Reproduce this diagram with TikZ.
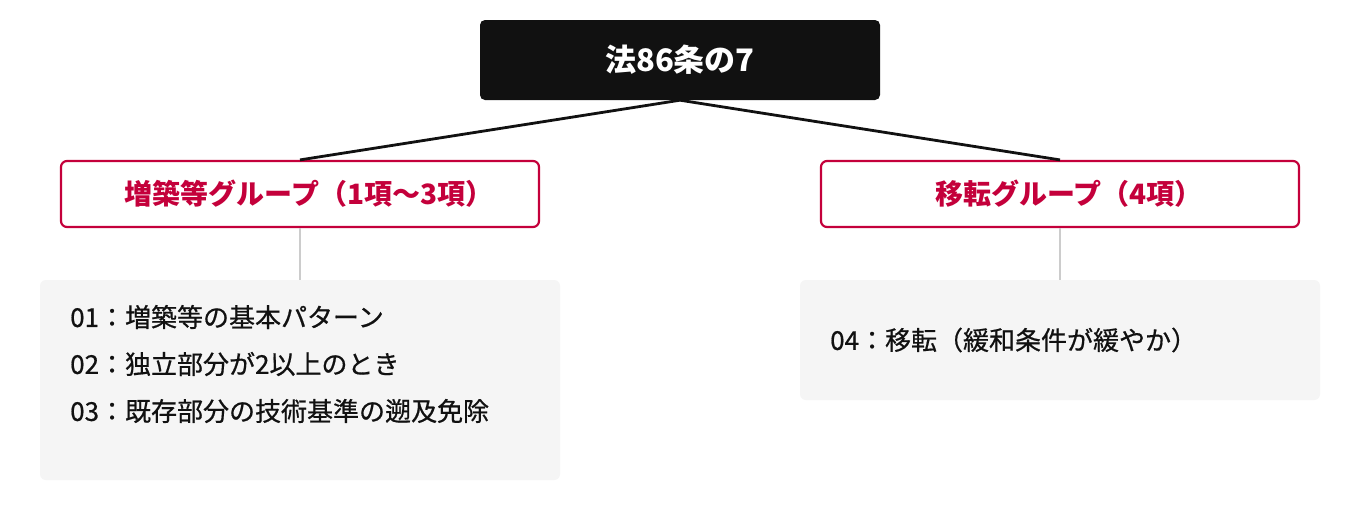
\documentclass[tikz,border=0pt]{standalone}
\usepackage{fontspec}
\setmainfont{Noto Sans CJK JP}
\newfontfamily\itemfont[FakeBold=0.6]{Noto Sans CJK JP}
\definecolor{titlebg}{HTML}{111111}
\definecolor{accent}{HTML}{C4003B}
\definecolor{itembg}{HTML}{F5F5F5}
\definecolor{stem}{HTML}{CCCCCC}
\definecolor{ink}{HTML}{111111}
\tikzset{
  titlebox/.style={fill=titlebg, rounded corners=5pt, minimum width=400pt, minimum height=80pt, inner sep=0pt, text=white, font=\fontsize{31}{36}\selectfont\bfseries},
  groupbox/.style={draw=accent, line width=2.2pt, fill=white, rounded corners=6pt, minimum width=478pt, minimum height=66pt, inner sep=0pt, text=accent, font=\fontsize{28}{32}\selectfont\bfseries},
  itembox/.style={fill=itembg, rounded corners=6pt, inner sep=0pt},
  itemtext/.style={anchor=west, text=ink, font=\itemfont\fontsize{26}{30}\selectfont, inner sep=0pt},
  mainlink/.style={draw=ink, line width=2.8pt},
  stemlink/.style={draw=stem, line width=2.5pt}
}
\begin{document}
\begin{tikzpicture}[x=1pt, y=-1pt]
\path[use as bounding box, fill=white] (0,0) rectangle (1360,520);
% item boxes
\path[itembox] (40,280) rectangle (560,480);
\path[itembox] (800,280) rectangle (1320,400);
\coordinate (lbox) at (300,280);
\coordinate (rbox) at (1060,280);
% nodes
\node[titlebox] (title) at (680,60) {法86条の7};
\node[groupbox] (gl) at (300,194) {\hspace*{18pt}増築等グループ（1項〜3項）};
\node[groupbox] (gr) at (1060,194) {\hspace*{18pt}移転グループ（4項）};
% links
\draw[mainlink] (title.south) -- (gl.north);
\draw[mainlink] (title.south) -- (gr.north);
\draw[stemlink] (gl.south) -- (lbox);
\draw[stemlink] (gr.south) -- (rbox);
% items
\node[itemtext] (i1) at (70,317) {01：増築等の基本パターン};
\node[itemtext] (i2) at (70,364) {02：独立部分が2以上のとき};
\node[itemtext] (i3) at (70,411) {03：既存部分の技術基準の遡及免除};
\node[itemtext] (i4) at (830,340) {04：移転（緩和条件が緩やか）};
\end{tikzpicture}
\end{document}
